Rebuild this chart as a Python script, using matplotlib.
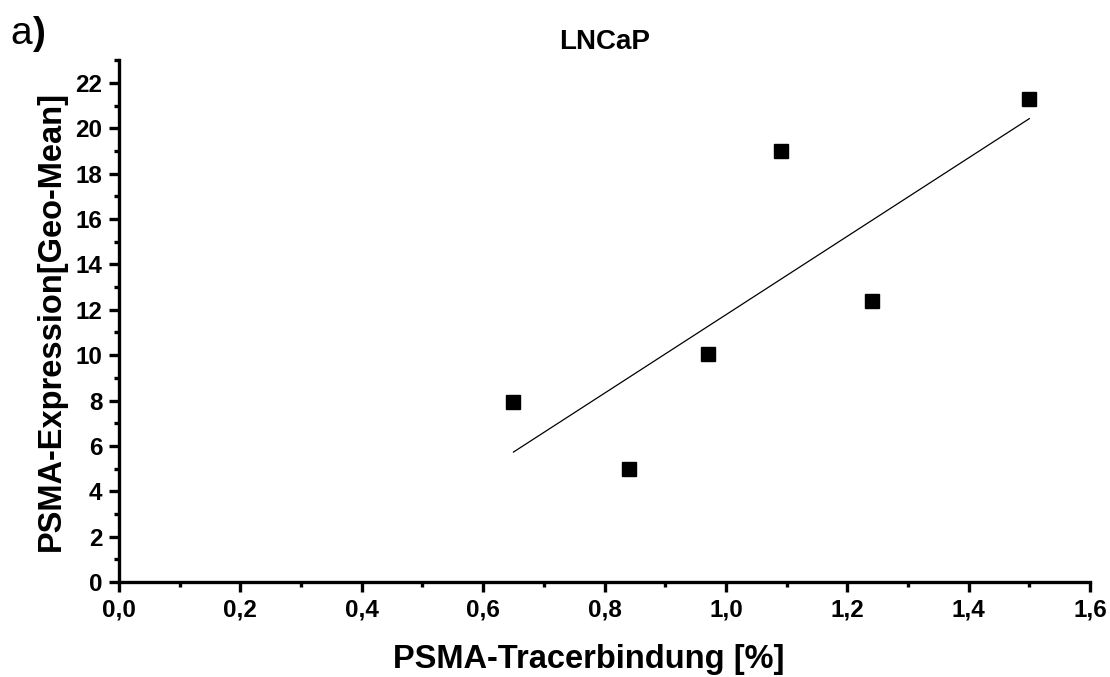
import matplotlib
matplotlib.use("Agg")
import matplotlib.pyplot as plt
import numpy as np
from matplotlib.ticker import MultipleLocator, FuncFormatter

# data
tracer = [0.65, 0.84, 0.97, 1.09, 1.24, 1.50]
expression = [7.95, 5.0, 10.05, 19.0, 12.4, 21.3]

plt.rcParams['font.family'] = ['Liberation Sans', 'DejaVu Sans']

fig = plt.figure(figsize=(11.1, 6.77), dpi=100)
ax = fig.add_axes([0.1072, 0.1403, 0.8748, 0.7707])

ax.plot(tracer, expression, 's', color='black', markersize=9.5, zorder=3)

# linear fit
slope, intercept = np.polyfit(tracer, expression, 1)
xfit = np.array([min(tracer), max(tracer)])
ax.plot(xfit, slope * xfit + intercept, color='black', linewidth=0.9)

ax.set_xlim(0, 1.6)
ax.set_ylim(0, 23)
ax.xaxis.set_major_locator(MultipleLocator(0.2))
ax.xaxis.set_minor_locator(MultipleLocator(0.1))
ax.yaxis.set_major_locator(MultipleLocator(2))
ax.yaxis.set_minor_locator(MultipleLocator(1))
ax.xaxis.set_major_formatter(FuncFormatter(lambda v, p: f"{v:.1f}".replace('.', ',')))

for s in ['top', 'right']:
    ax.spines[s].set_visible(False)
for s in ['left', 'bottom']:
    ax.spines[s].set_linewidth(2.4)

ax.tick_params(which='major', direction='out', length=7, width=2.4, labelsize=17.5, pad=5)
ax.tick_params(which='minor', direction='out', length=3.5, width=2.4)
for lbl in ax.get_xticklabels() + ax.get_yticklabels():
    lbl.set_fontweight('bold')

ax.set_xlabel("PSMA-Tracerbindung [%]", fontsize=23.5, fontweight='bold', labelpad=16)
ax.xaxis.label.set_x(0.484)
ax.set_ylabel("PSMA-Expression[Geo-Mean]", fontsize=23.5, fontweight='bold', labelpad=6)
ax.set_title("LNCaP", fontsize=20, fontweight='bold', pad=8)

fig.text(0.009, 0.935, "a", fontsize=28)
fig.text(0.030, 0.935, ")", fontsize=28, fontweight='bold')

fig.savefig("out.png", dpi=100)
